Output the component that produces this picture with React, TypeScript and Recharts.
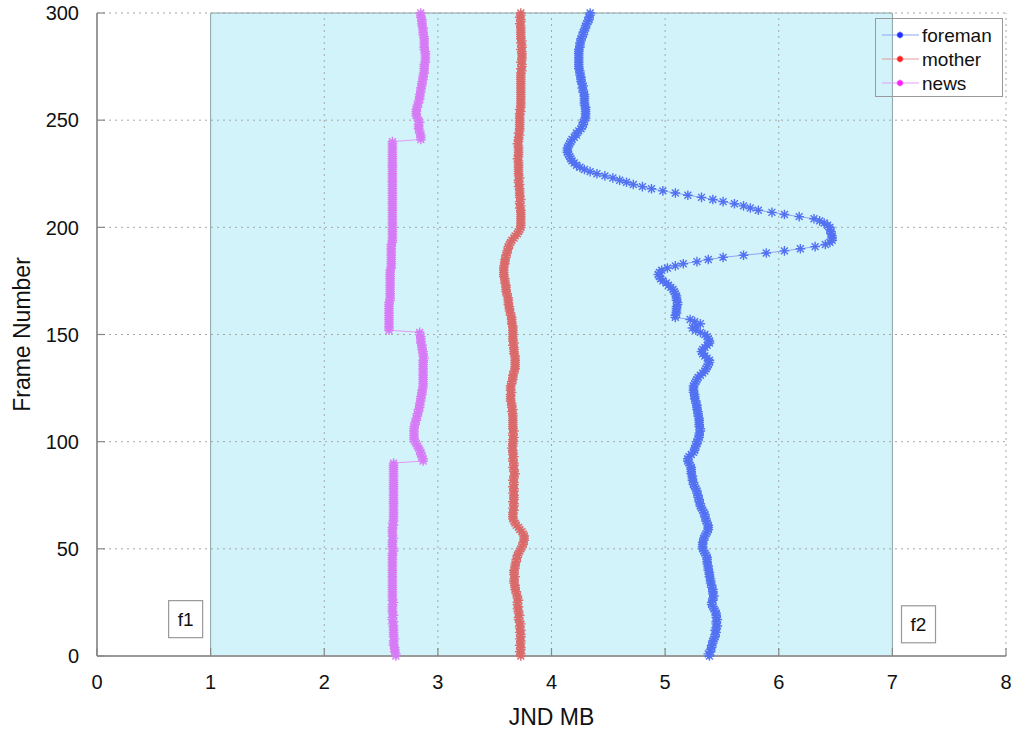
import React from 'react';
import {
  ScatterChart, Scatter, XAxis, YAxis, ReferenceArea, ReferenceLine, ReferenceDot, Legend,
} from 'recharts';

// JND MB per frame (frames 0..300)
const FOREMAN = [
  5.39,5.38,5.40,5.40,5.41,5.41,5.42,5.42,5.43,5.44,
  5.44,5.45,5.44,5.45,5.46,5.45,5.45,5.46,5.45,5.45,
  5.45,5.44,5.43,5.42,5.41,5.41,5.42,5.42,5.43,5.42,
  5.42,5.42,5.41,5.41,5.40,5.40,5.40,5.39,5.39,5.39,
  5.38,5.38,5.38,5.37,5.37,5.37,5.37,5.36,5.35,5.34,
  5.33,5.33,5.33,5.33,5.34,5.34,5.35,5.36,5.37,5.38,
  5.38,5.38,5.37,5.36,5.36,5.35,5.35,5.34,5.33,5.32,
  5.31,5.31,5.30,5.30,5.29,5.29,5.28,5.28,5.27,5.26,
  5.25,5.25,5.24,5.24,5.24,5.23,5.23,5.23,5.23,5.22,
  5.21,5.20,5.20,5.21,5.23,5.25,5.26,5.26,5.27,5.28,
  5.28,5.29,5.30,5.30,5.30,5.31,5.31,5.30,5.30,5.30,
  5.30,5.30,5.29,5.29,5.29,5.28,5.28,5.28,5.27,5.27,
  5.26,5.26,5.26,5.25,5.25,5.25,5.25,5.26,5.27,5.28,
  5.29,5.31,5.33,5.35,5.36,5.37,5.38,5.39,5.39,5.37,
  5.35,5.33,5.32,5.33,5.35,5.37,5.39,5.39,5.38,5.37,
  5.35,5.31,5.27,5.24,5.27,5.31,5.26,5.22,5.09,5.09,
  5.10,5.10,5.10,5.10,5.11,5.11,5.10,5.10,5.10,5.09,
  5.08,5.07,5.05,5.03,5.01,4.98,4.96,4.95,4.94,4.95,
  4.97,5.02,5.09,5.16,5.28,5.38,5.51,5.69,5.89,6.05,
  6.19,6.32,6.41,6.45,6.47,6.47,6.47,6.46,6.46,6.45,
  6.45,6.43,6.40,6.36,6.31,6.18,6.05,5.94,5.82,5.75,
  5.69,5.61,5.51,5.42,5.32,5.20,5.09,4.98,4.88,4.80,
  4.72,4.66,4.60,4.54,4.47,4.40,4.34,4.29,4.25,4.22,
  4.20,4.18,4.17,4.16,4.15,4.14,4.14,4.14,4.15,4.16,
  4.17,4.18,4.20,4.22,4.22,4.24,4.26,4.27,4.28,4.28,
  4.29,4.30,4.30,4.30,4.30,4.30,4.30,4.29,4.29,4.29,
  4.29,4.29,4.29,4.28,4.28,4.27,4.28,4.27,4.26,4.26,
  4.26,4.25,4.25,4.25,4.24,4.24,4.24,4.24,4.24,4.24,
  4.24,4.24,4.24,4.24,4.25,4.25,4.25,4.26,4.26,4.27,
  4.28,4.28,4.29,4.30,4.30,4.31,4.32,4.33,4.33,4.34,
  4.34,
];

const MOTHER = [
  3.73,3.73,3.72,3.73,3.73,3.72,3.73,3.73,3.72,3.73,
  3.73,3.72,3.73,3.72,3.72,3.73,3.72,3.71,3.71,3.72,
  3.71,3.71,3.70,3.71,3.70,3.70,3.71,3.70,3.70,3.69,
  3.69,3.68,3.68,3.68,3.67,3.67,3.67,3.68,3.67,3.67,
  3.67,3.68,3.68,3.68,3.69,3.69,3.70,3.70,3.71,3.72,
  3.73,3.74,3.75,3.75,3.76,3.76,3.76,3.75,3.74,3.72,
  3.71,3.69,3.68,3.67,3.66,3.66,3.66,3.66,3.67,3.66,
  3.67,3.67,3.66,3.67,3.67,3.67,3.66,3.67,3.67,3.66,
  3.67,3.67,3.66,3.67,3.67,3.68,3.67,3.67,3.66,3.67,
  3.67,3.66,3.66,3.67,3.66,3.66,3.66,3.65,3.66,3.66,
  3.66,3.66,3.67,3.66,3.66,3.67,3.66,3.66,3.66,3.66,
  3.66,3.66,3.66,3.66,3.65,3.66,3.65,3.65,3.65,3.64,
  3.64,3.64,3.64,3.65,3.64,3.64,3.64,3.65,3.65,3.66,
  3.66,3.66,3.67,3.67,3.68,3.68,3.68,3.68,3.68,3.68,
  3.68,3.67,3.67,3.67,3.67,3.66,3.67,3.66,3.66,3.66,
  3.66,3.66,3.66,3.66,3.66,3.65,3.65,3.65,3.65,3.64,
  3.64,3.63,3.63,3.63,3.62,3.62,3.62,3.62,3.61,3.61,
  3.60,3.60,3.60,3.60,3.59,3.59,3.59,3.58,3.58,3.58,
  3.58,3.58,3.58,3.59,3.59,3.59,3.60,3.60,3.61,3.61,
  3.62,3.62,3.63,3.64,3.65,3.67,3.68,3.70,3.71,3.72,
  3.73,3.73,3.73,3.73,3.73,3.73,3.73,3.73,3.73,3.72,
  3.73,3.72,3.72,3.73,3.72,3.72,3.72,3.72,3.72,3.71,
  3.72,3.71,3.71,3.72,3.71,3.71,3.71,3.71,3.71,3.71,
  3.71,3.71,3.70,3.71,3.71,3.71,3.71,3.71,3.71,3.70,
  3.71,3.71,3.71,3.72,3.71,3.72,3.72,3.72,3.72,3.72,
  3.72,3.72,3.72,3.72,3.73,3.72,3.73,3.73,3.73,3.73,
  3.73,3.73,3.73,3.73,3.73,3.73,3.73,3.73,3.73,3.73,
  3.73,3.73,3.73,3.74,3.73,3.74,3.74,3.73,3.74,3.74,
  3.74,3.74,3.74,3.73,3.74,3.74,3.73,3.74,3.73,3.73,
  3.73,3.73,3.73,3.73,3.73,3.72,3.73,3.73,3.72,3.73,
  3.73,
];

const NEWS = [
  2.63,2.63,2.62,2.62,2.62,2.61,2.61,2.61,2.62,2.61,
  2.61,2.61,2.61,2.61,2.61,2.60,2.61,2.60,2.60,2.61,
  2.60,2.60,2.60,2.60,2.60,2.61,2.60,2.60,2.60,2.60,
  2.60,2.60,2.60,2.60,2.60,2.60,2.60,2.60,2.60,2.60,
  2.60,2.60,2.60,2.60,2.60,2.60,2.60,2.60,2.60,2.61,
  2.60,2.60,2.60,2.60,2.60,2.61,2.60,2.60,2.60,2.60,
  2.60,2.61,2.60,2.61,2.61,2.61,2.61,2.61,2.61,2.61,
  2.61,2.61,2.61,2.61,2.61,2.61,2.61,2.61,2.61,2.61,
  2.61,2.61,2.61,2.61,2.61,2.61,2.61,2.61,2.61,2.61,
  2.61,2.87,2.87,2.86,2.85,2.85,2.84,2.83,2.82,2.81,
  2.80,2.79,2.79,2.79,2.79,2.79,2.79,2.79,2.80,2.80,
  2.81,2.81,2.82,2.82,2.83,2.83,2.84,2.84,2.84,2.85,
  2.85,2.85,2.86,2.86,2.86,2.87,2.87,2.87,2.87,2.87,
  2.87,2.87,2.87,2.87,2.87,2.87,2.87,2.87,2.87,2.88,
  2.87,2.87,2.87,2.86,2.86,2.86,2.85,2.85,2.85,2.85,
  2.84,2.84,2.57,2.57,2.57,2.57,2.57,2.57,2.57,2.57,
  2.57,2.57,2.57,2.57,2.57,2.57,2.58,2.58,2.58,2.58,
  2.58,2.58,2.58,2.58,2.58,2.58,2.58,2.58,2.58,2.58,
  2.58,2.59,2.59,2.59,2.59,2.59,2.59,2.59,2.59,2.59,
  2.59,2.59,2.59,2.60,2.60,2.60,2.60,2.60,2.60,2.60,
  2.60,2.60,2.60,2.60,2.60,2.60,2.60,2.60,2.60,2.60,
  2.60,2.60,2.60,2.60,2.60,2.60,2.60,2.60,2.60,2.60,
  2.60,2.60,2.60,2.60,2.60,2.60,2.60,2.60,2.60,2.60,
  2.60,2.60,2.60,2.60,2.60,2.60,2.60,2.60,2.60,2.60,
  2.60,2.85,2.85,2.85,2.84,2.84,2.83,2.83,2.83,2.84,
  2.83,2.82,2.81,2.81,2.81,2.81,2.82,2.82,2.83,2.83,
  2.84,2.84,2.84,2.85,2.85,2.85,2.86,2.86,2.86,2.87,
  2.87,2.87,2.88,2.88,2.88,2.88,2.88,2.89,2.89,2.89,
  2.89,2.89,2.89,2.88,2.88,2.88,2.88,2.88,2.88,2.88,
  2.87,2.87,2.87,2.87,2.86,2.86,2.86,2.86,2.85,2.85,
  2.85,
];

const SERIES_NAMES = ['foreman', 'mother', 'news'];
const X_TICKS = [0, 1, 2, 3, 4, 5, 6, 7, 8];
const Y_TICKS = [0, 50, 100, 150, 200, 250, 300];
const X_GRID = [2, 3, 4, 5, 6, 8];
const Y_GRID = [50, 100, 150, 200, 250, 300];
const REGION = [1, 7];
const NOTES = [
  { label: 'f1', x: 0.78, y: 17.2 },
  { label: 'f2', x: 7.23, y: 14.8 },
];

const SERIES = [
  { name: SERIES_NAMES[0], values: FOREMAN, mark: '#5272f2', line: '#8ea3f6', key: '#1f2fff' },
  { name: SERIES_NAMES[1], values: MOTHER, mark: '#db6a6a', line: '#e89a9a', key: '#ff2020' },
  { name: SERIES_NAMES[2], values: NEWS, mark: '#d77bf5', line: '#e39bf8', key: '#ff20ff' },
];

const toPoints = (vals: number[]) => vals.map((v, i) => ({ x: v, y: i }));

const FONT = '"Liberation Sans", Arial, Helvetica, sans-serif';
const TICK_MARGIN_Y = 18;
const TICK_MARGIN_X = 19;

const starPath = (cx: number, cy: number, r: number) => {
  const d = r * 0.72;
  return `M${cx - r},${cy}H${cx + r}M${cx},${cy - r}V${cy + r}M${cx - d},${cy - d}L${cx + d},${cy + d}M${cx - d},${cy + d}L${cx + d},${cy - d}`;
};

const makeShape = (color: string) => (props: any) => {
  const { cx, cy } = props;
  if (cx == null || cy == null) return <g />;
  return <path d={starPath(cx, cy, 4.8)} stroke={color} strokeWidth={1.4} fill="none" />;
};

const YTick = (props: any) => {
  const { x, y, payload } = props;
  const ax = x + TICK_MARGIN_Y;
  return (
    <g>
      <line x1={ax} y1={y} x2={ax + 8} y2={y} stroke="#888" strokeWidth={1.2} />
      <text x={x} y={y} dy="0.36em" textAnchor="end" fontFamily={FONT} fontSize={20} fill="#111">
        {payload.value}
      </text>
    </g>
  );
};

const XTick = (props: any) => {
  const { x, y, payload } = props;
  const ay = y - TICK_MARGIN_X;
  return (
    <g>
      <line x1={x} y1={ay} x2={x} y2={ay - 8} stroke="#888" strokeWidth={1.2} />
      <text x={x} y={y} dy="0.72em" textAnchor="middle" fontFamily={FONT} fontSize={20} fill="#111">
        {payload.value}
      </text>
    </g>
  );
};

const LegendBox = () => (
  <svg width={128} height={79} style={{ display: 'block' }}>
    <rect x={0.5} y={0.5} width={127} height={78} fill="none" stroke="#999" />
    {SERIES.map((s, i) => {
      const cy = 17 + i * 24;
      return (
        <g key={s.name}>
          <line x1={7} y1={cy} x2={44} y2={cy} stroke={s.line} strokeWidth={1.2} />
          <path d={starPath(25, cy, 3.2)} stroke={s.key} strokeWidth={1.6} fill="none" />
          <text x={47} y={cy} dy="0.36em" fontFamily={FONT} fontSize={19} fill="#111">{s.name}</text>
        </g>
      );
    })}
  </svg>
);

const NoteShape = (label: string) => (props: any) => {
  const { cx, cy } = props;
  if (cx == null) return <g />;
  return (
    <g>
      <rect x={cx - 17} y={cy - 18.5} width={34} height={37} fill="#fff" stroke="#999" strokeWidth={1.2} />
      <text x={cx} y={cy} dy="0.36em" textAnchor="middle" fontFamily={FONT} fontSize={19} fill="#111">{label}</text>
    </g>
  );
};

export default function App() {
  return (
    <div style={{ position: 'absolute', left: 0, top: 0, width: 1011, height: 731, background: '#fff' }}>
      <ScatterChart width={1011} height={731} margin={{ top: 13, right: 5, bottom: 0, left: 0 }}>
        <XAxis
          type="number"
          dataKey="x"
          domain={[0, 8]}
          ticks={X_TICKS}
          interval={0}
          height={75}
          tickSize={0}
          tickMargin={TICK_MARGIN_X}
          tick={<XTick />}
          axisLine={{ stroke: '#999', strokeWidth: 2 }}
          label={{ value: 'JND MB', position: 'insideBottom', offset: 6, fontSize: 23, fontFamily: FONT, fill: '#111' }}
        />
        <YAxis
          type="number"
          dataKey="y"
          domain={[0, 300]}
          ticks={Y_TICKS}
          interval={0}
          width={97}
          tickSize={0}
          tickMargin={TICK_MARGIN_Y}
          tick={<YTick />}
          axisLine={{ stroke: '#999', strokeWidth: 2 }}
          label={{ value: 'Frame Number', angle: -90, position: 'insideLeft', offset: 22, fontSize: 23, fontFamily: FONT, fill: '#111', style: { textAnchor: 'middle' } }}
        />
        <ReferenceArea x1={REGION[0]} x2={REGION[1]} y1={0} y2={300} fill="#d3f3fb" fillOpacity={1} stroke="#8aa0a8" strokeWidth={1} ifOverflow="visible" />
        {Y_GRID.map((v) => (
          <ReferenceLine key={'h' + v} y={v} stroke="#a6a6a6" strokeDasharray="2 4" strokeWidth={1} />
        ))}
        {X_GRID.map((v) => (
          <ReferenceLine key={'v' + v} x={v} stroke="#a6a6a6" strokeDasharray="2 4" strokeWidth={1} />
        ))}
        {SERIES.map((s) => (
          <Scatter
            key={s.name}
            name={s.name}
            data={toPoints(s.values)}
            line={{ stroke: s.line, strokeWidth: 1 }}
            lineType="joint"
            shape={makeShape(s.mark)}
            isAnimationActive={false}
          />
        ))}
        {NOTES.map((n) => (
          <ReferenceDot key={n.label} x={n.x} y={n.y} r={1} ifOverflow="visible" shape={NoteShape(n.label)} />
        ))}
        <Legend
          layout="vertical"
          align="center"
          verticalAlign="middle"
          wrapperStyle={{ top: 18, left: 875, width: 128, height: 79, bottom: 'auto', right: 'auto' }}
          content={() => <LegendBox />}
        />
      </ScatterChart>
    </div>
  );
}
